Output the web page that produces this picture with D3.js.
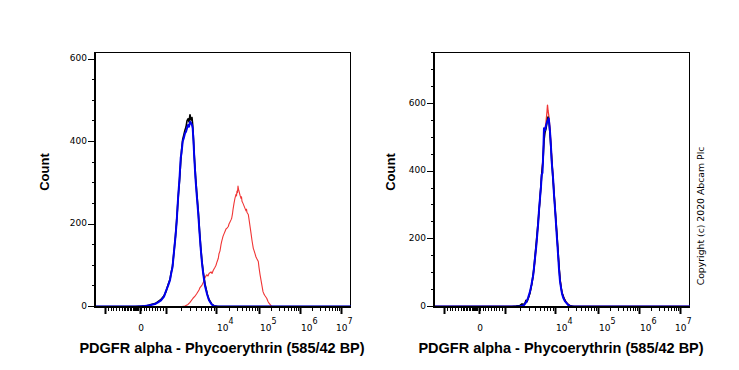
<!DOCTYPE html>
<html><head><meta charset="utf-8">
<script src="https://cdn.jsdelivr.net/npm/d3@7"></script>
<style>
html,body{margin:0;padding:0;background:#fff;}
svg{display:block;}
</style></head>
<body>
<script>
// ---- DATA (x = histogram channel on a 256-channel biexponential display, y = count) ----
const xTickChannels = [10, 44.5, 71, 121, 164, 205, 246];
const xTickLabels   = ["", "0", "", "4", "5", "6", "7"];   // exponent of 10 ("0" = zero)
const leftYTicks  = [0, 200, 400, 600];
const rightYTicks = [0, 200, 400, 600];
const xTitle = "PDGFR alpha - Phycoerythrin (585/42 BP)";
const yTitle = "Count";
const copyright = "Copyright (c) 2020 Abcam Plc";

const leftRed = [[0,0],[87,0],[90,1],[93,5],[95,10],[98,20],[100,25],[102,32],[104,40],[105,46],[107,52],[109,62],[110,70],[111.7,77],[113,74],[114,80],[116,84],[117,80],[118.3,88],[120,95],[121,100],[122,108],[123.3,117],[124,128],[125,135],[126,150],[126.7,158],[128,170],[129,176],[130,182],[131,188],[132,190],[133.3,194],[134,200],[135,205],[136,210],[136.7,214],[137.5,225],[138,235],[139,250],[140,263],[141,272],[141.5,268],[142,280],[142.5,276],[143,292],[143.5,284],[144,280],[145,270],[146,262],[146.5,266],[147,255],[148,250],[149,244],[150,238],[151,232],[151.5,236],[152,228],[153.3,223],[154,212],[155,195],[156,178],[157,160],[158.3,141],[159,136],[160,128],[161,120],[162,115],[163.3,109],[164,95],[165,78],[166,64],[167,50],[168,36],[169,30],[170,26],[171.7,20],[173,12],[174,8],[175,5],[176,2],[177,0],[256,0]];
const leftBlack = [[0,0],[40,0],[47,1],[52,2],[56,5],[60,7],[63,12],[66,17],[69,26],[71,36],[73,52],[75,66],[76,80],[77.5,98],[79.3,140],[80.5,172],[81.7,210],[82.5,238],[83.3,268],[84.5,305],[85.7,350],[86.5,378],[87.7,405],[89,418],[90,428],[91,435],[92,450],[93,455],[94,448],[95,465],[96,452],[97,458],[97.7,440],[98.5,405],[99.3,365],[100.5,318],[101.7,278],[103.3,230],[104.5,185],[105.7,145],[107,108],[108.3,82],[110,55],[112.3,30],[114,17],[116.7,6],[119,2],[123,0],[256,0]];
const leftBlue = [[0,0],[43,0],[50,1],[55,3],[58,5],[60,6],[63,10],[66,15],[69,24],[71,38],[73,50],[75,64],[76,78],[77.5,95],[79.3,141],[80.5,170],[81.7,206],[82.5,240],[83.3,271],[84.5,310],[85.7,360],[86.5,372],[87.7,400],[89,410],[90,420],[91,424],[92,432],[93,440],[94,436],[95,448],[96,445],[97,440],[97.7,432],[98.5,400],[99.3,360],[100.5,310],[101.7,271],[103.3,223],[104.5,180],[105.7,141],[107,105],[108.3,78],[110,50],[112.3,28],[114,15],[116.7,5],[119,1],[122,0],[256,0]];

const rightRed = [[0,0],[82,0],[88,2],[91,8],[93,18],[95,30],[97,55],[99,85],[101,135],[103,200],[104.5,260],[106,318],[107.5,385],[109,440],[110,500],[111,525],[112,545],[113,575],[113.5,595],[114,580],[115,560],[116,525],[117,480],[118,430],[119,385],[120,340],[121,295],[122,250],[123,205],[124,160],[125,120],[126,85],[127,60],[128,42],[130,25],[132,14],[134,7],[136,3],[138,1],[141,0],[256,0]];
const rightBlack = [[0,0],[78,0],[82,1],[86,3],[88,8],[89,4],[91,10],[92,18],[93,14],[94,22],[96,40],[98,70],[100,115],[102,180],[104,245],[105.5,300],[107,360],[108,400],[109,430],[110,490],[111,515],[112,525],[113,545],[114,560],[115,545],[116,510],[117,465],[118,420],[119,375],[120,335],[121,292],[122,250],[123,210],[124,165],[125,120],[126,80],[127,58],[128,40],[130,24],[132,12],[134,6],[136,2],[140,0],[256,0]];
const rightBlue = [[0,0],[81,0],[86,1],[90,4],[92.7,15],[94,25],[96,44],[97.5,65],[99.3,94],[101,143],[102,170],[102.7,192],[103.5,222],[104.3,251],[105,285],[106,320],[107,355],[107.7,390],[108.5,395],[109.3,458],[110,527],[111,520],[111.7,530],[112.5,540],[113.3,547],[114,550],[114.7,556],[115.3,540],[116,517],[117,470],[117.7,428],[118.5,400],[119.3,369],[120,330],[121,290],[122,245],[122.7,212],[123.5,178],[124.3,143],[125,110],[126,74],[127,55],[128,38],[129.3,25],[131,15],[132.7,10],[134,5],[136,1],[139,0],[256,0]];

// ---- LAYOUT ----
const W = 739, H = 370;
const svg = d3.select("body").append("svg").attr("width", W).attr("height", H);
const tickFont = "'DejaVu Sans', Verdana, sans-serif";
const titleFont = "'Liberation Sans', Arial, sans-serif";

const panels = [
  {x0: 95,  x1: 351, yDomain: [-1.2, 617], yTicks: leftYTicks,  yMax: 600, series: [[leftRed,"#f03535",1.1],[leftBlack,"#000",1.6],[leftBlue,"#0000ee",2]], countX: 44},
  {x0: 434, x1: 690, yDomain: [-1.5, 752], yTicks: rightYTicks, yMax: 750, series: [[rightRed,"#f03535",1.3],[rightBlack,"#000",1.6],[rightBlue,"#0000ee",2]], countX: 390}
];
const yTop = 52, yBot = 307;

panels.forEach((p, i) => {
  const x = d3.scaleLinear().domain([0, 256]).range([p.x0, p.x1]);
  const y = d3.scaleLinear().domain(p.yDomain).range([yBot, yTop]);
  const g = svg.append("g");

  const cid = "clip" + i;
  svg.append("clipPath").attr("id", cid).append("rect")
    .attr("x", p.x0).attr("y", yTop).attr("width", p.x1 - p.x0).attr("height", yBot - yTop);

  // frame
  g.append("rect").attr("x", p.x0 + 0.5).attr("y", yTop + 0.5)
    .attr("width", p.x1 - p.x0 - 1).attr("height", yBot - yTop - 1)
    .attr("fill", "none").attr("stroke", "#000").attr("stroke-width", 1);

  // series
  const line = d3.line().x(d => x(d[0])).y(d => y(d[1]));
  const sg = g.append("g").attr("clip-path", `url(#${cid})`);
  p.series.forEach(([data, col, w]) => {
    sg.append("path").attr("d", line(data)).attr("fill", "none")
      .attr("stroke", col).attr("stroke-width", w).attr("stroke-linejoin", "round");
  });

  // y axis line
  g.append("line").attr("x1", p.x0).attr("x2", p.x0).attr("y1", yTop).attr("y2", yBot + 1)
    .attr("stroke", "#000").attr("stroke-width", 2);
  const minor = d3.range(0, p.yMax + 1, 50);
  g.selectAll(null).data(minor).join("line")
    .attr("x1", d => p.yTicks.includes(d) ? p.x0 - 7 : p.x0 - 3).attr("x2", p.x0)
    .attr("y1", d => Math.round(y(d) - 0.5) + 0.5).attr("y2", d => Math.round(y(d) - 0.5) + 0.5)
    .attr("stroke", "#000").attr("stroke-width", 1);
  g.selectAll(null).data(p.yTicks).join("text")
    .attr("x", p.x0 - 8).attr("y", d => y(d) + 2.3)
    .attr("text-anchor", "end").attr("font-family", tickFont).attr("font-size", 9)
    .text(d => d);

  // x axis line (on top of the baselines)
  g.append("line").attr("x1", p.x0 - 1).attr("x2", p.x1).attr("y1", yBot).attr("y2", yBot)
    .attr("stroke", "#000").attr("stroke-width", 2);

  const xm = [];
  for (let c = xTickChannels[0]; c < xTickChannels[2]; c += 2.75) xm.push(c);
  [30,31.5,33,34.5,36,37.5,39,40.5,42,43].forEach(c => xm.push(c));
  for (let k = 2; k < xTickChannels.length - 1; k++) {
    const a = xTickChannels[k], b = xTickChannels[k + 1];
    for (let m = 2; m <= 9; m++) xm.push(a + (b - a) * Math.log10(m));
  }
  g.selectAll(null).data(xm).join("line")
    .attr("x1", d => Math.round(x(d)) + 0.5).attr("x2", d => Math.round(x(d)) + 0.5)
    .attr("y1", yBot).attr("y2", yBot + 4)
    .attr("stroke", "#000").attr("stroke-width", 1);
  g.selectAll(null).data(xTickChannels).join("line")
    .attr("x1", d => Math.round(x(d)) + 0.5).attr("x2", d => Math.round(x(d)) + 0.5)
    .attr("y1", yBot).attr("y2", yBot + 7)
    .attr("stroke", "#000").attr("stroke-width", 2);

  xTickChannels.forEach((c, k) => {
    const lab = xTickLabels[k];
    if (!lab) return;
    if (lab === "0") {
      g.append("text").attr("x", x(c) + 1.5).attr("y", 331).attr("text-anchor", "middle")
        .attr("font-family", tickFont).attr("font-size", 9).text("0");
    } else {
      const t = g.append("text").attr("x", x(c) + (k === 6 ? -5 : 1)).attr("y", 331)
        .attr("font-family", tickFont).attr("font-size", 9);
      t.append("tspan").text("10");
      t.append("tspan").attr("dy", -7).attr("font-size", 8).text(lab);
    }
  });

  g.append("text").attr("x", (p.x0 + p.x1) / 2 - 1).attr("y", 353).attr("text-anchor", "middle")
    .attr("font-family", titleFont).attr("font-weight", "bold").attr("font-size", 14.5)
    .text(xTitle);
  g.append("text").attr("transform", `translate(${p.countX + 5},172) rotate(-90)`)
    .attr("text-anchor", "middle").attr("font-family", titleFont).attr("font-weight", "bold")
    .attr("font-size", 13).text(yTitle);
});

svg.append("text").attr("transform", "translate(704,216) rotate(-90)")
  .attr("text-anchor", "middle").attr("font-family", tickFont).attr("font-size", 9.3)
  .text(copyright);
</script>
</body></html>
